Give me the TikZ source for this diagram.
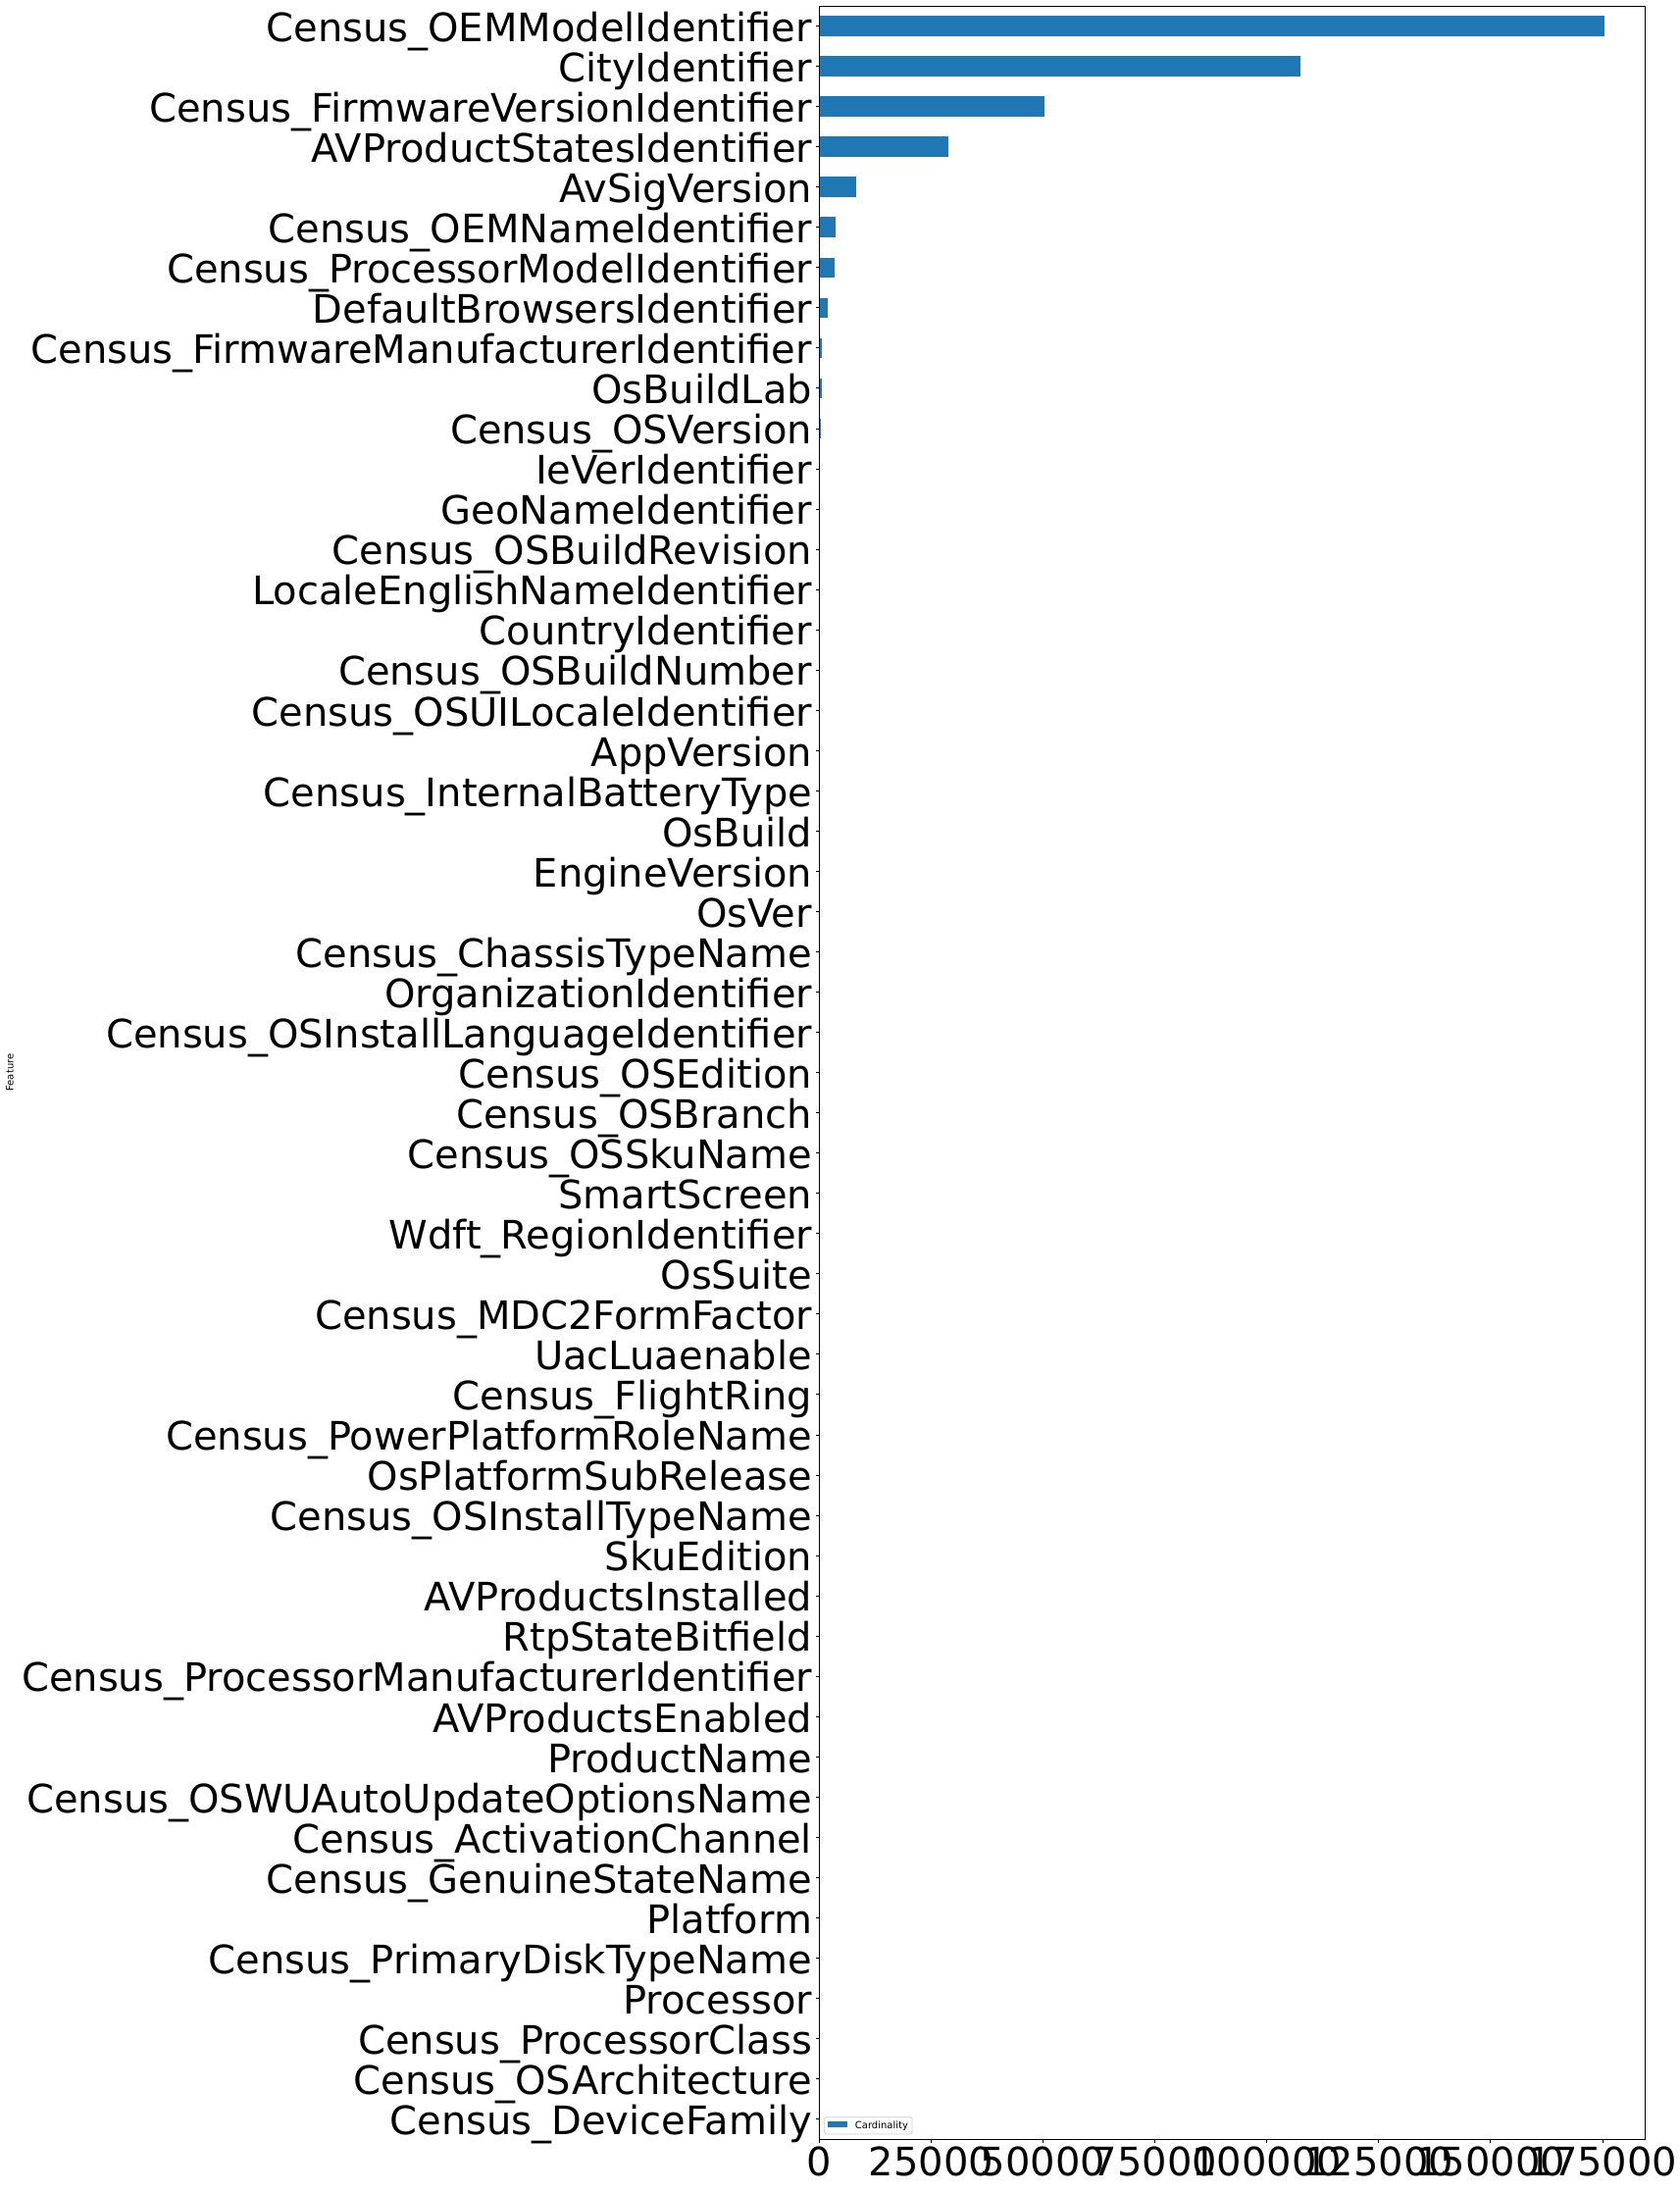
\documentclass[tikz,border=0pt]{standalone}
\usepackage{fontspec}
\setmainfont{DejaVu Sans}
\usetikzlibrary{positioning, calc}
\definecolor{barblue}{RGB}{31, 119, 180}
\definecolor{legendgray}{RGB}{204, 204, 204}
\tikzstyle{bar} = [fill=barblue, draw=none]
\tikzstyle{ticklabel} = [inner sep=0pt, font=\fontsize{40}{48}\selectfont]
\tikzstyle{smalllabel} = [inner sep=0pt, font=\fontsize{10}{12}\selectfont]
\tikzstyle{tickmark} = [line width=0.8pt, black]
\tikzstyle{frame} = [line width=0.8pt, draw=black]
\tikzstyle{legendframe} = [draw=legendgray, line width=0.8pt, rounded corners=2pt, fill=white, fill opacity=0.8]

\begin{document}
\begin{tikzpicture}[x=1pt, y=-1pt]
      \useasboundingbox (0,0) rectangle (1713,2235);
      \coordinate (origin) at (835.2,2181);
      \coordinate (topright) at (1677,6);

      % bars, y ticks and category labels (values in thousands)
      \foreach \name/\val [count=\i from 0] in {
          Census\_OEMModelIdentifier/175.5, CityIdentifier/107.5,
          Census\_FirmwareVersionIdentifier/50.4, AVProductStatesIdentifier/28.9,
          AvSigVersion/8.35, Census\_OEMNameIdentifier/3.77,
          Census\_ProcessorModelIdentifier/3.37, DefaultBrowsersIdentifier/1.93,
          Census\_FirmwareManufacturerIdentifier/0.62, OsBuildLab/0.55,
          Census\_OSVersion/0.33, IeVerIdentifier/0.1,
          GeoNameIdentifier/0.09, Census\_OSBuildRevision/0.09,
          LocaleEnglishNameIdentifier/0.08, CountryIdentifier/0.07,
          Census\_OSBuildNumber/0.05, Census\_OSUILocaleIdentifier/0.05,
          AppVersion/0.04, Census\_InternalBatteryType/0.03,
          OsBuild/0.03, EngineVersion/0.02, OsVer/0.02,
          Census\_ChassisTypeName/0.02, OrganizationIdentifier/0.02,
          Census\_OSInstallLanguageIdentifier/0.01, Census\_OSEdition/0.01,
          Census\_OSBranch/0.01, Census\_OSSkuName/0.01, SmartScreen/0.01,
          Wdft\_RegionIdentifier/0.01, OsSuite/0.01, Census\_MDC2FormFactor/0.01,
          UacLuaenable/0.01, Census\_FlightRing/0.01,
          Census\_PowerPlatformRoleName/0.01, OsPlatformSubRelease/0.01,
          Census\_OSInstallTypeName/0.01, SkuEdition/0.01,
          AVProductsInstalled/0.01, RtpStateBitfield/0.01,
          Census\_ProcessorManufacturerIdentifier/0.01, AVProductsEnabled/0.01,
          ProductName/0.01, Census\_OSWUAutoUpdateOptionsName/0.01,
          Census\_ActivationChannel/0.01, Census\_GenuineStateName/0.01,
          Platform/0.01, Census\_PrimaryDiskTypeName/0.01, Processor/0.01,
          Census\_ProcessorClass/0.01, Census\_OSArchitecture/0.01,
          Census\_DeviceFamily/0.01}{
        \pgfmathsetmacro\yc{6+(\i+0.5)*41.04}
        \fill[bar] (835.2,\yc-10.26) rectangle ++(\val*4.564,20.52);
        \draw[tickmark] (835.2,\yc) -- ++(-3.5,0);
        \node[ticklabel, anchor=base east] (lbl\i) at (828.2,\yc+15.8) {\name};
      }

      % x ticks
      \foreach \v [count=\k from 0] in {0,25000,50000,75000,100000,125000,150000,175000}{
        \draw[tickmark] (835.2+\k*114.1,2181) -- ++(0,3.5);
        \node[ticklabel, anchor=base] (xt\k) at (835.2+\k*114.1,2218) {\v};
      }

      \draw[frame] (origin) rectangle (topright);

      % legend
      \draw[legendframe] (840.7,2158.7) rectangle (930,2176);
      \node[bar, minimum width=20pt, minimum height=6.6pt, inner sep=0pt, anchor=west] (legkey) at (844,2166) {};
      \node[smalllabel, anchor=base west] (legtext) at (871.7,2170.7) {Cardinality};

      \node[smalllabel, rotate=90, anchor=base] (ylabel) at (13.5,1093.5) {Feature};
    \end{tikzpicture}
\end{document}
